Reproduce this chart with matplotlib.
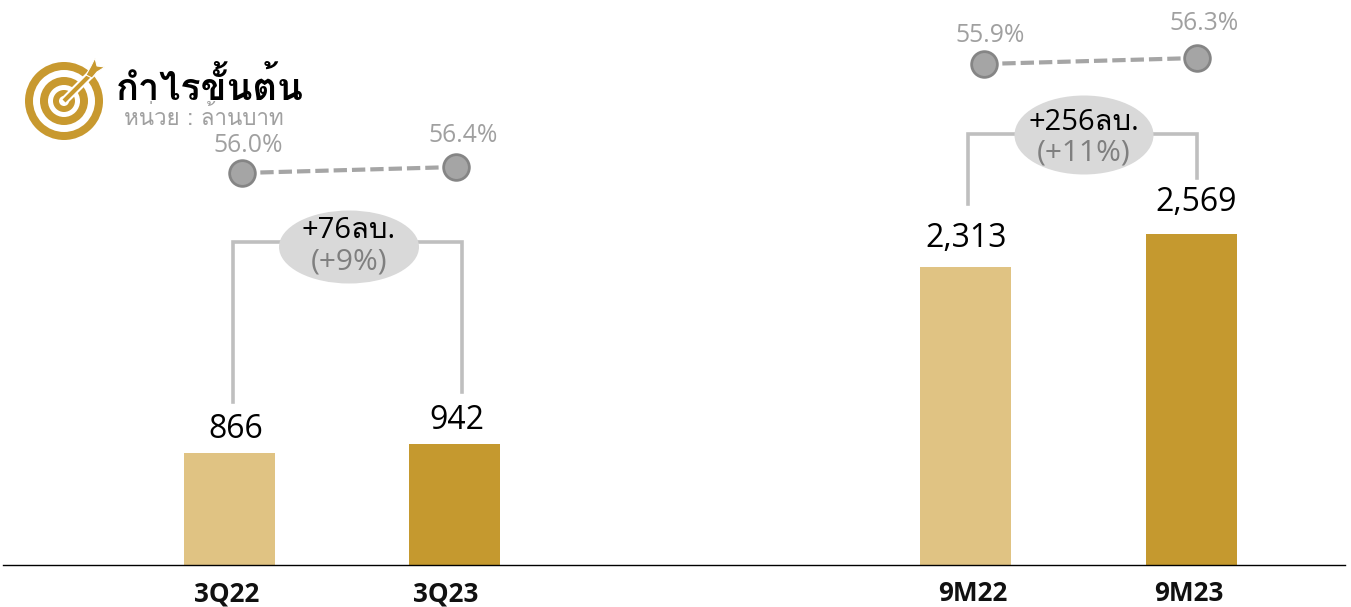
import matplotlib
matplotlib.use('Agg')
import matplotlib.pyplot as plt
from matplotlib.patches import Circle, Ellipse, Polygon

plt.rcParams['font.family'] = ['Open Sans', 'Loma', 'DejaVu Sans']

categories = ['3Q22', '3Q23', '9M22', '9M23']
gross_profit = [866, 942, 2313, 2569]
gross_margin = [56.0, 56.4, 55.9, 56.3]
margin_labels = ['56.0%', '56.4%', '55.9%', '56.3%']
profit_labels = ['866', '942', '2,313', '2,569']
change_labels = ['+76ลบ.', '+256ลบ.']
change_pct = ['(+9%)', '(+11%)']
title = 'กำไรขั้นต้น'
unit = 'หน่วย : ล้านบาท'

W, H = 1351, 607
LIGHT = '#E0C383'
DARK = '#C5992F'
LOGO = '#C8992F'
GREY = '#A0A0A0'

fig = plt.figure(figsize=(W / 100, H / 100), dpi=100)

# bars in their own axes, baseline at the bottom spine
ax = fig.add_axes([3 / W, 42 / H, 1342 / W, 523 / H])
bar_x = [229, 454.5, 965, 1191]
ax.bar(bar_x, gross_profit, width=91, color=[LIGHT, DARK, LIGHT, DARK])
ax.set_xlim(3, 1345)
ax.set_ylim(0, 523 / 0.1288)
for s in ['top', 'left', 'right']:
    ax.spines[s].set_visible(False)
ax.spines['bottom'].set_color('black')
ax.spines['bottom'].set_linewidth(1)
ax.set_yticks([])
# the tick labels sit a little off the bar centres in the original
ax.set_xticks([227, 445.5, 973, 1189])
ax.set_xticklabels(categories, fontsize=18.8, fontweight='bold', color='#111111')
ax.tick_params(axis='x', length=0, pad=11)
ax.patch.set_alpha(0)
# same for the value labels: (x shift, y shift) in pixels
label_shift = [(7, 7), (2, 7), (1, 12), (5, 15)]
for x, v, t, (dx, dy) in zip(bar_x, gross_profit, profit_labels, label_shift):
    ax.annotate(t, (x, v), xytext=(dx * 0.72, dy * 0.72), textcoords='offset points', ha='center', va='bottom',
                fontsize=23, color='black')

# everything else is placed in pixels
ov = fig.add_axes([0, 0, 1, 1])
ov.set_xlim(0, W)
ov.set_ylim(H, 0)
ov.axis('off')

# margin lines
margin_shift = [(27, 32), (28, 35)]
for i, (x0, x1, y0) in enumerate([(242, 456, 173), (984, 1197, 64)]):
    m0, m1 = gross_margin[2 * i], gross_margin[2 * i + 1]
    y1 = y0 - (m1 - m0) * 15
    ov.plot([x0, x1], [y0, y1], color='#A5A5A5', lw=3, ls=(0, (3.2, 1.2)), zorder=2)
    ov.plot([x0, x1], [y0, y1], 'o', ms=18.5, mfc='#A5A5A5', mec='#858585', mew=2, zorder=3)
    ov.text(x0 + 6, y0 - margin_shift[i][0], margin_labels[2 * i], fontsize=17.8, color=GREY, ha='center', va='center')
    ov.text(x1 + 7, y1 - margin_shift[i][1], margin_labels[2 * i + 1], fontsize=17.8, color=GREY, ha='center', va='center')

# brackets and change bubbles
brackets = [(233, 462, 242, 402, 392, 349, 247, 140, 73, 230, 262),
            (968, 1197, 134, 204, 178, 1084, 135, 139, 79, 123, 153)]
for i, (xl, xr, yt, yl, yr, cx, cy, ew, eh, y1, y2) in enumerate(brackets):
    ov.plot([xl, xl, xr, xr], [yl, yt, yt, yr], color='#BFBFBF', lw=2.6, solid_joinstyle='miter', zorder=2)
    ov.add_patch(Ellipse((cx, cy), ew, eh, fc='#D9D9D9', ec='none', zorder=3))
    ov.text(cx, y1, change_labels[i], fontsize=21, fontweight='medium', color='black', ha='center', va='center', zorder=4)
    ov.text(cx, y2, change_pct[i], fontsize=21.5, fontweight='medium', color='#7F7F7F', ha='center', va='center', zorder=4)

# target icon
cx, cy = 64, 101
for r, c in [(39, LOGO), (31, 'white'), (24, LOGO), (16, 'white'), (11, LOGO), (5, 'white')]:
    ov.add_patch(Circle((cx, cy), r, fc=c, ec='none', zorder=5))
ov.plot([cx, 93], [cy, 72], color='white', lw=6, zorder=6, solid_capstyle='butt')
ov.plot([cx, 93], [cy, 72], color=LOGO, lw=3, zorder=7, solid_capstyle='butt')
ov.add_patch(Polygon([(86, 75), (91, 66), (95, 58), (97, 66), (105, 67), (97, 72), (92, 78)],
                     fc=LOGO, ec='white', lw=0.8, zorder=8))

ov.text(116, 87, title, fontsize=27.3, fontweight='bold', color='black', va='center', ha='left',
        family=['Loma', 'Open Sans'], zorder=9)
ov.text(124, 118, unit, fontsize=16.1, color=GREY, va='center', ha='left',
        family=['Loma', 'Open Sans'], zorder=9)

fig.savefig('out.png', dpi=100)
